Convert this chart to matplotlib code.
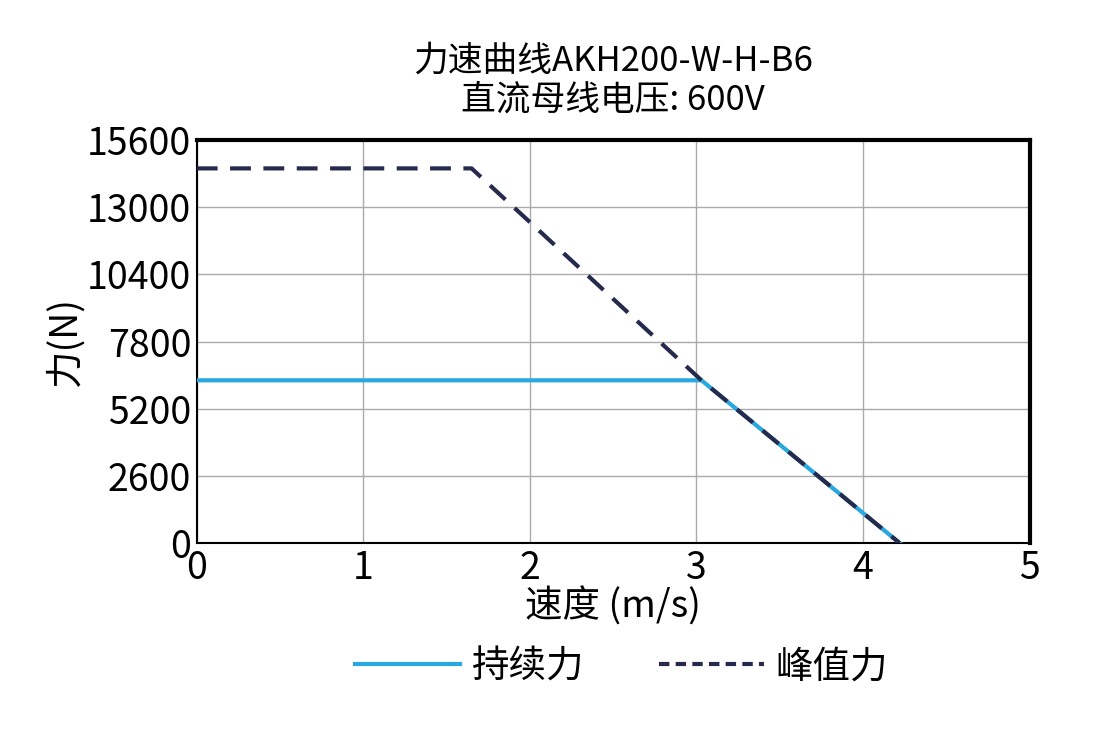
import matplotlib
matplotlib.use('Agg')
import matplotlib.pyplot as plt

plt.rcParams['font.family'] = ['Noto Sans CJK SC', 'DejaVu Sans']

# 持续力
cont_v = [0, 3.03, 4.22]
cont_f = [6300, 6300, 0]
# 峰值力
peak_v = [0, 1.65, 3.03, 4.22]
peak_f = [14500, 14500, 6300, 0]

yticks = [0, 2600, 5200, 7800, 10400, 13000, 15600]
xticks = [0, 1, 2, 3, 4, 5]

fig = plt.figure(figsize=(10.93, 7.29), dpi=100)
ax = fig.add_axes([0.18, 0.255, 0.762, 0.553])

ax.plot(cont_v, cont_f, color='#29a8df', lw=3, label='持续力', zorder=3)
ax.plot(peak_v, peak_f, color='#262a4d', lw=3, ls=(0, (5, 3)), label='峰值力', zorder=4)

ax.set_xlim(0, 5)
ax.set_ylim(0, 15600)
ax.set_xticks(xticks)
ax.set_yticks(yticks)
ax.grid(True, color='#aaaaaa', lw=1)
ax.tick_params(labelsize=27, length=0, pad=4)
for s in ['top', 'right']:
    ax.spines[s].set_linewidth(3)
for s in ['left', 'bottom']:
    ax.spines[s].set_linewidth(1.5)

ax.set_xlabel('速度 (m/s)', fontsize=27, labelpad=0)
ax.set_ylabel('力(N)', fontsize=27, labelpad=2)
ax.set_title('力速曲线AKH200-W-H-B6\n直流母线电压: 600V', fontsize=25, linespacing=1.15, pad=22)

leg = ax.legend(loc='upper center', bbox_to_anchor=(0.51, -0.175), ncol=2, frameon=False,
                fontsize=27, handlelength=2.8, columnspacing=2.0, handletextpad=0.3)
leg.get_lines()[1].set_linestyle((0, (2.5, 1.5)))

fig.savefig('out.png', dpi=100)
